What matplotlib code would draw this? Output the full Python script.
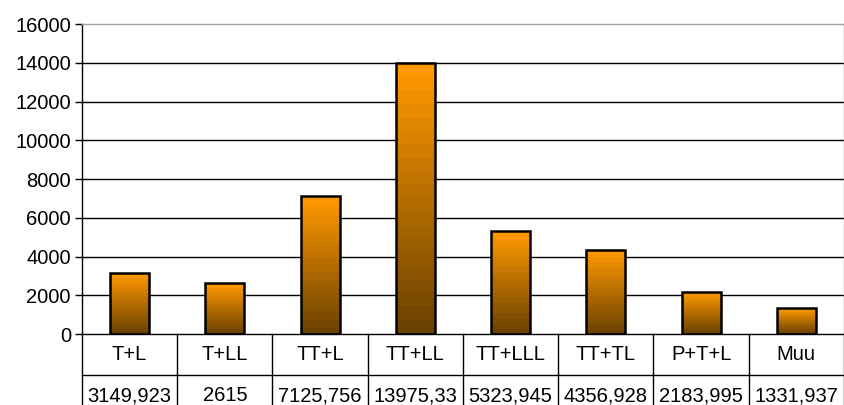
import numpy as np
import matplotlib.pyplot as plt
from matplotlib.colors import LinearSegmentedColormap

plt.rcParams['font.family'] = ['Liberation Sans', 'DejaVu Sans']

# === Data ===
categories = ["T+L", "T+LL", "TT+L", "TT+LL", "TT+LLL", "TT+TL", "P+T+L", "Muu"]
values = [3149.923, 2615, 7125.756, 13975.33, 5323.945, 4356.928, 2183.995, 1331.937]
value_labels = ["3149,923", "2615", "7125,756", "13975,33", "5323,945", "4356,928", "2183,995", "1331,937"]
yticks = [0, 2000, 4000, 6000, 8000, 10000, 12000, 14000, 16000]

fig = plt.figure(figsize=(8.45, 4.05), dpi=100)
W, H = 845, 405
ax = fig.add_axes([82 / W, 1 - 334 / H, (844 - 82) / W, (334 - 24) / H])

n = len(categories)
x = np.arange(n)
ymax = 16000
px = ymax / (334 - 24)  # data units per pixel

# gridlines
for t in yticks[1:-1]:
    ax.axhline(t, color='black', lw=1, zorder=1)

# === Bars with stepped vertical gradient ===
cmap = LinearSegmentedColormap.from_list("og", ["#6c4200", "#ff9900"], N=20)
grad = np.linspace(0, 1, 256).reshape(-1, 1)
bars = ax.bar(x, values, width=0.41, facecolor='none', edgecolor='black', lw=1.8, zorder=3)
for b in bars:
    x0, w, h = b.get_x(), b.get_width(), b.get_height()
    im = ax.imshow(grad, cmap=cmap, origin='lower', aspect='auto',
                   extent=[x0, x0 + w, 0, h], zorder=2)
    im.set_clip_path(b)
ax.set_xlim(-0.5, n - 0.5)
ax.set_ylim(0, ymax)

# axes styling
ax.set_yticks(yticks)
ax.set_yticklabels([str(t) for t in yticks], fontsize=14.5)
ax.tick_params(axis='y', length=5, width=1, pad=3)
ax.set_xticks([])
ax.spines['top'].set_color('#a0a0a0')
ax.spines['right'].set_color('#a0a0a0')
for s in ax.spines.values():
    s.set_linewidth(1)

# === Data table below the axes ===
row1_bottom = -(375 - 334) * px
table_bottom = -(420 - 334) * px
for i in range(n + 1):
    xb = i - 0.5
    ax.plot([xb, xb], [0, table_bottom], color='black', lw=1, clip_on=False)
ax.plot([-0.5, n - 0.5], [row1_bottom, row1_bottom], color='black', lw=1, clip_on=False)
for i in range(n):
    ax.text(i, -(360 - 334) * px, categories[i], ha='center', va='baseline', fontsize=14.5)
    ax.text(i, -(401 - 334) * px, value_labels[i], ha='center', va='baseline', fontsize=14.5)

plt.savefig("out.png", dpi=100)
plt.close()
